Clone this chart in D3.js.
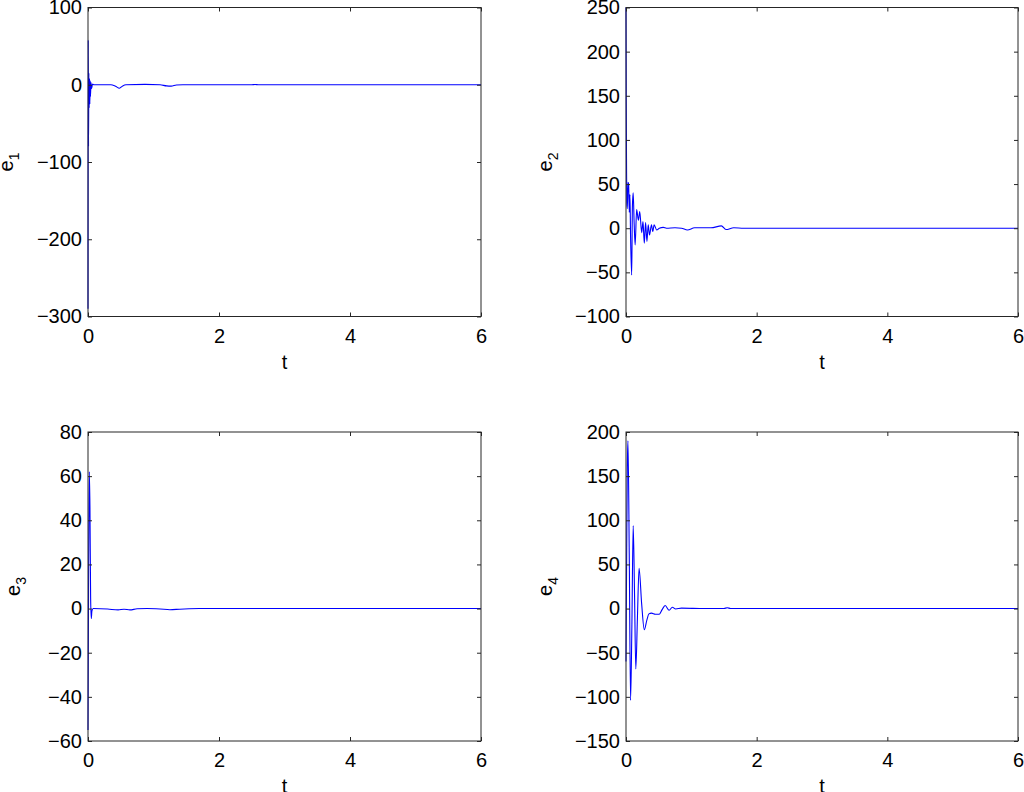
<!DOCTYPE html>
<html>
<head>
<meta charset="utf-8">
<script src="https://cdn.jsdelivr.net/npm/d3@7"></script>
<style>
  html, body { margin: 0; padding: 0; background: #fff; }
  #chart { width: 1024px; height: 792px; }
  text { font-family: "Liberation Sans", Arial, Helvetica, sans-serif; fill: #000; }
</style>
</head>
<body>
<div id="chart"></div>
<script>
// shared x ticks
const xTicks = [0, 2, 4, 6];

// e1 (top left)
const e1Time  = [0, 0.004, 0.008, 0.013, 0.018, 0.023, 0.028, 0.033, 0.038, 0.045, 0.055, 0.07, 0.09, 0.35, 0.42, 0.48, 0.53, 0.58, 0.87, 1.1, 1.2, 1.27, 1.35, 1.45, 2.5, 2.55, 2.6, 6];
const e1Value = [-290, 58, -80, 15, -30, 8, -25, 5, -15, 3, -5, 1, 0, 0, -2, -4.5, -1.5, 0, 0.5, 0, -1.5, -1.8, -0.3, 0, 0, 0.4, 0, 0];
const e1Ticks = [-300, -200, -100, 0, 100];

// e2 (top right)
const e2Time  = [0, 0.004, 0.008, 0.012, 0.02, 0.03, 0.04, 0.05, 0.06, 0.07, 0.087, 0.098, 0.11, 0.125, 0.14, 0.163, 0.19, 0.21, 0.24, 0.26, 0.28, 0.30, 0.32, 0.34, 0.36, 0.39, 0.41, 0.43, 0.47, 0.51, 0.57, 0.62, 0.75, 0.85, 0.94, 1.05, 1.3, 1.46, 1.53, 1.65, 1.8, 6];
const e2Value = [250, 140, 75, 30, 22, 52, 50, 18, 38, -10, -53, 25, 40, 5, -19, 21, 9, 19, -5, 7.5, -17, 6.4, -15, 3.8, -7.6, 3.8, -3.8, 3.8, -2, 0, 1, 0, 0.5, 0, -2, 0.5, 0.5, 2.6, -1.5, 0.5, 0, 0];
const e2Ticks = [-100, -50, 0, 50, 100, 150, 200, 250];

// e3 (bottom left)
const e3Time  = [0, 0.01, 0.02, 0.03, 0.04, 0.05, 0.06, 0.08, 0.3, 0.46, 0.55, 0.64, 0.75, 0.9, 1.1, 1.25, 1.4, 1.7, 6];
const e3Value = [-55, 20, 62, 45, 5, -4.5, -1, 0, -0.2, -0.6, -0.3, -0.6, -0.1, 0, -0.2, -0.5, -0.3, 0, 0];
const e3Ticks = [-60, -40, -20, 0, 20, 40, 60, 80];

// e4 (bottom right)
const e4Time  = [0, 0.01, 0.02, 0.03, 0.05, 0.07, 0.09, 0.11, 0.13, 0.15, 0.175, 0.2, 0.24, 0.28, 0.32, 0.35, 0.39, 0.45, 0.51, 0.55, 0.6, 0.66, 0.71, 0.76, 0.85, 1.2, 1.5, 1.55, 1.6, 1.8, 6];
const e4Value = [-60, 60, 160, 190, 60, -104, -20, 94, 20, -68.5, -10, 45.6, 5, -24, -12.8, -6, -5.2, -6.4, -6.4, -1.5, 3.4, -1.9, 1.5, -0.5, 0.5, 0, 0, 1, 0, 0, 0];
const e4Ticks = [-150, -100, -50, 0, 50, 100, 150, 200];

const panels = [
  { sub: "1", t: e1Time, v: e1Value, ticks: e1Ticks, left: 88,  right: 481,  top: 7.5, bottom: 316.5, labelX: 13 },
  { sub: "2", t: e2Time, v: e2Value, ticks: e2Ticks, left: 626, right: 1018, top: 7.5, bottom: 316.5, labelX: 552 },
  { sub: "3", t: e3Time, v: e3Value, ticks: e3Ticks, left: 88,  right: 481,  top: 432, bottom: 741,   labelX: 20 },
  { sub: "4", t: e4Time, v: e4Value, ticks: e4Ticks, left: 626, right: 1018, top: 432, bottom: 741,   labelX: 552 }
];

const svg = d3.select("#chart").append("svg")
  .attr("width", 1024)
  .attr("height", 792);

svg.append("rect").attr("width", 1024).attr("height", 792).attr("fill", "#fff");

const axisColor = "#262626";

panels.forEach((p) => {
  const x = d3.scaleLinear().domain([xTicks[0], xTicks[xTicks.length - 1]]).range([p.left, p.right]);
  const y = d3.scaleLinear().domain(d3.extent(p.ticks)).range([p.bottom, p.top]);

  const g = svg.append("g").attr("class", "panel");

  const data = p.t.map((t, i) => ({ t, v: p.v[i] }));

  const line = d3.line()
    .x((d) => x(d.t))
    .y((d) => y(d.v))
    .curve(d3.curveMonotoneX);

  g.append("path")
    .datum(data)
    .attr("fill", "none")
    .attr("stroke", "#0000ff")
    .attr("stroke-width", 1.1)
    .attr("d", line);

  // box
  g.append("rect")
    .attr("x", p.left).attr("y", p.top)
    .attr("width", p.right - p.left).attr("height", p.bottom - p.top)
    .attr("fill", "none").attr("stroke", axisColor).attr("stroke-width", 1);

  const fmt = (d) => (d < 0 ? "\u2212" + Math.abs(d) : d);

  const xAxis = d3.axisBottom(x).tickValues(xTicks).tickSizeInner(-4).tickSizeOuter(0).tickPadding(12).tickFormat(fmt);
  const yAxis = d3.axisLeft(y).tickValues(p.ticks).tickSizeInner(-4).tickSizeOuter(0).tickPadding(6).tickFormat(fmt);
  const xTop = d3.axisTop(x).tickValues(xTicks).tickSizeInner(-4).tickSizeOuter(0).tickFormat("");
  const yRight = d3.axisRight(y).tickValues(p.ticks).tickSizeInner(-4).tickSizeOuter(0).tickFormat("");

  const axes = [
    [xAxis, `translate(0,${p.bottom})`],
    [yAxis, `translate(${p.left},0)`],
    [xTop, `translate(0,${p.top})`],
    [yRight, `translate(${p.right},0)`]
  ];
  axes.forEach(([ax, tr]) => {
    const a = g.append("g").attr("transform", tr).call(ax);
    a.select(".domain").remove();
    a.selectAll("line").attr("stroke", axisColor);
    a.selectAll("text")
      .attr("fill", "#000")
      .style("font-size", "20px")
      .style("font-family", '"Liberation Sans", Arial, sans-serif');
  });

  // x label
  g.append("text")
    .attr("x", (p.left + p.right) / 2)
    .attr("y", p.bottom + 52)
    .attr("text-anchor", "middle")
    .style("font-size", "20px")
    .text("t");

  // y label with subscript
  const yl = g.append("text")
    .attr("transform", `translate(${p.labelX},${(p.top + p.bottom) / 2}) rotate(-90)`)
    .attr("text-anchor", "middle")
    .style("font-size", "20px");
  yl.append("tspan").text("e");
  yl.append("tspan").attr("dy", 6).style("font-size", "14px").text(p.sub);
});
</script>
</body>
</html>
